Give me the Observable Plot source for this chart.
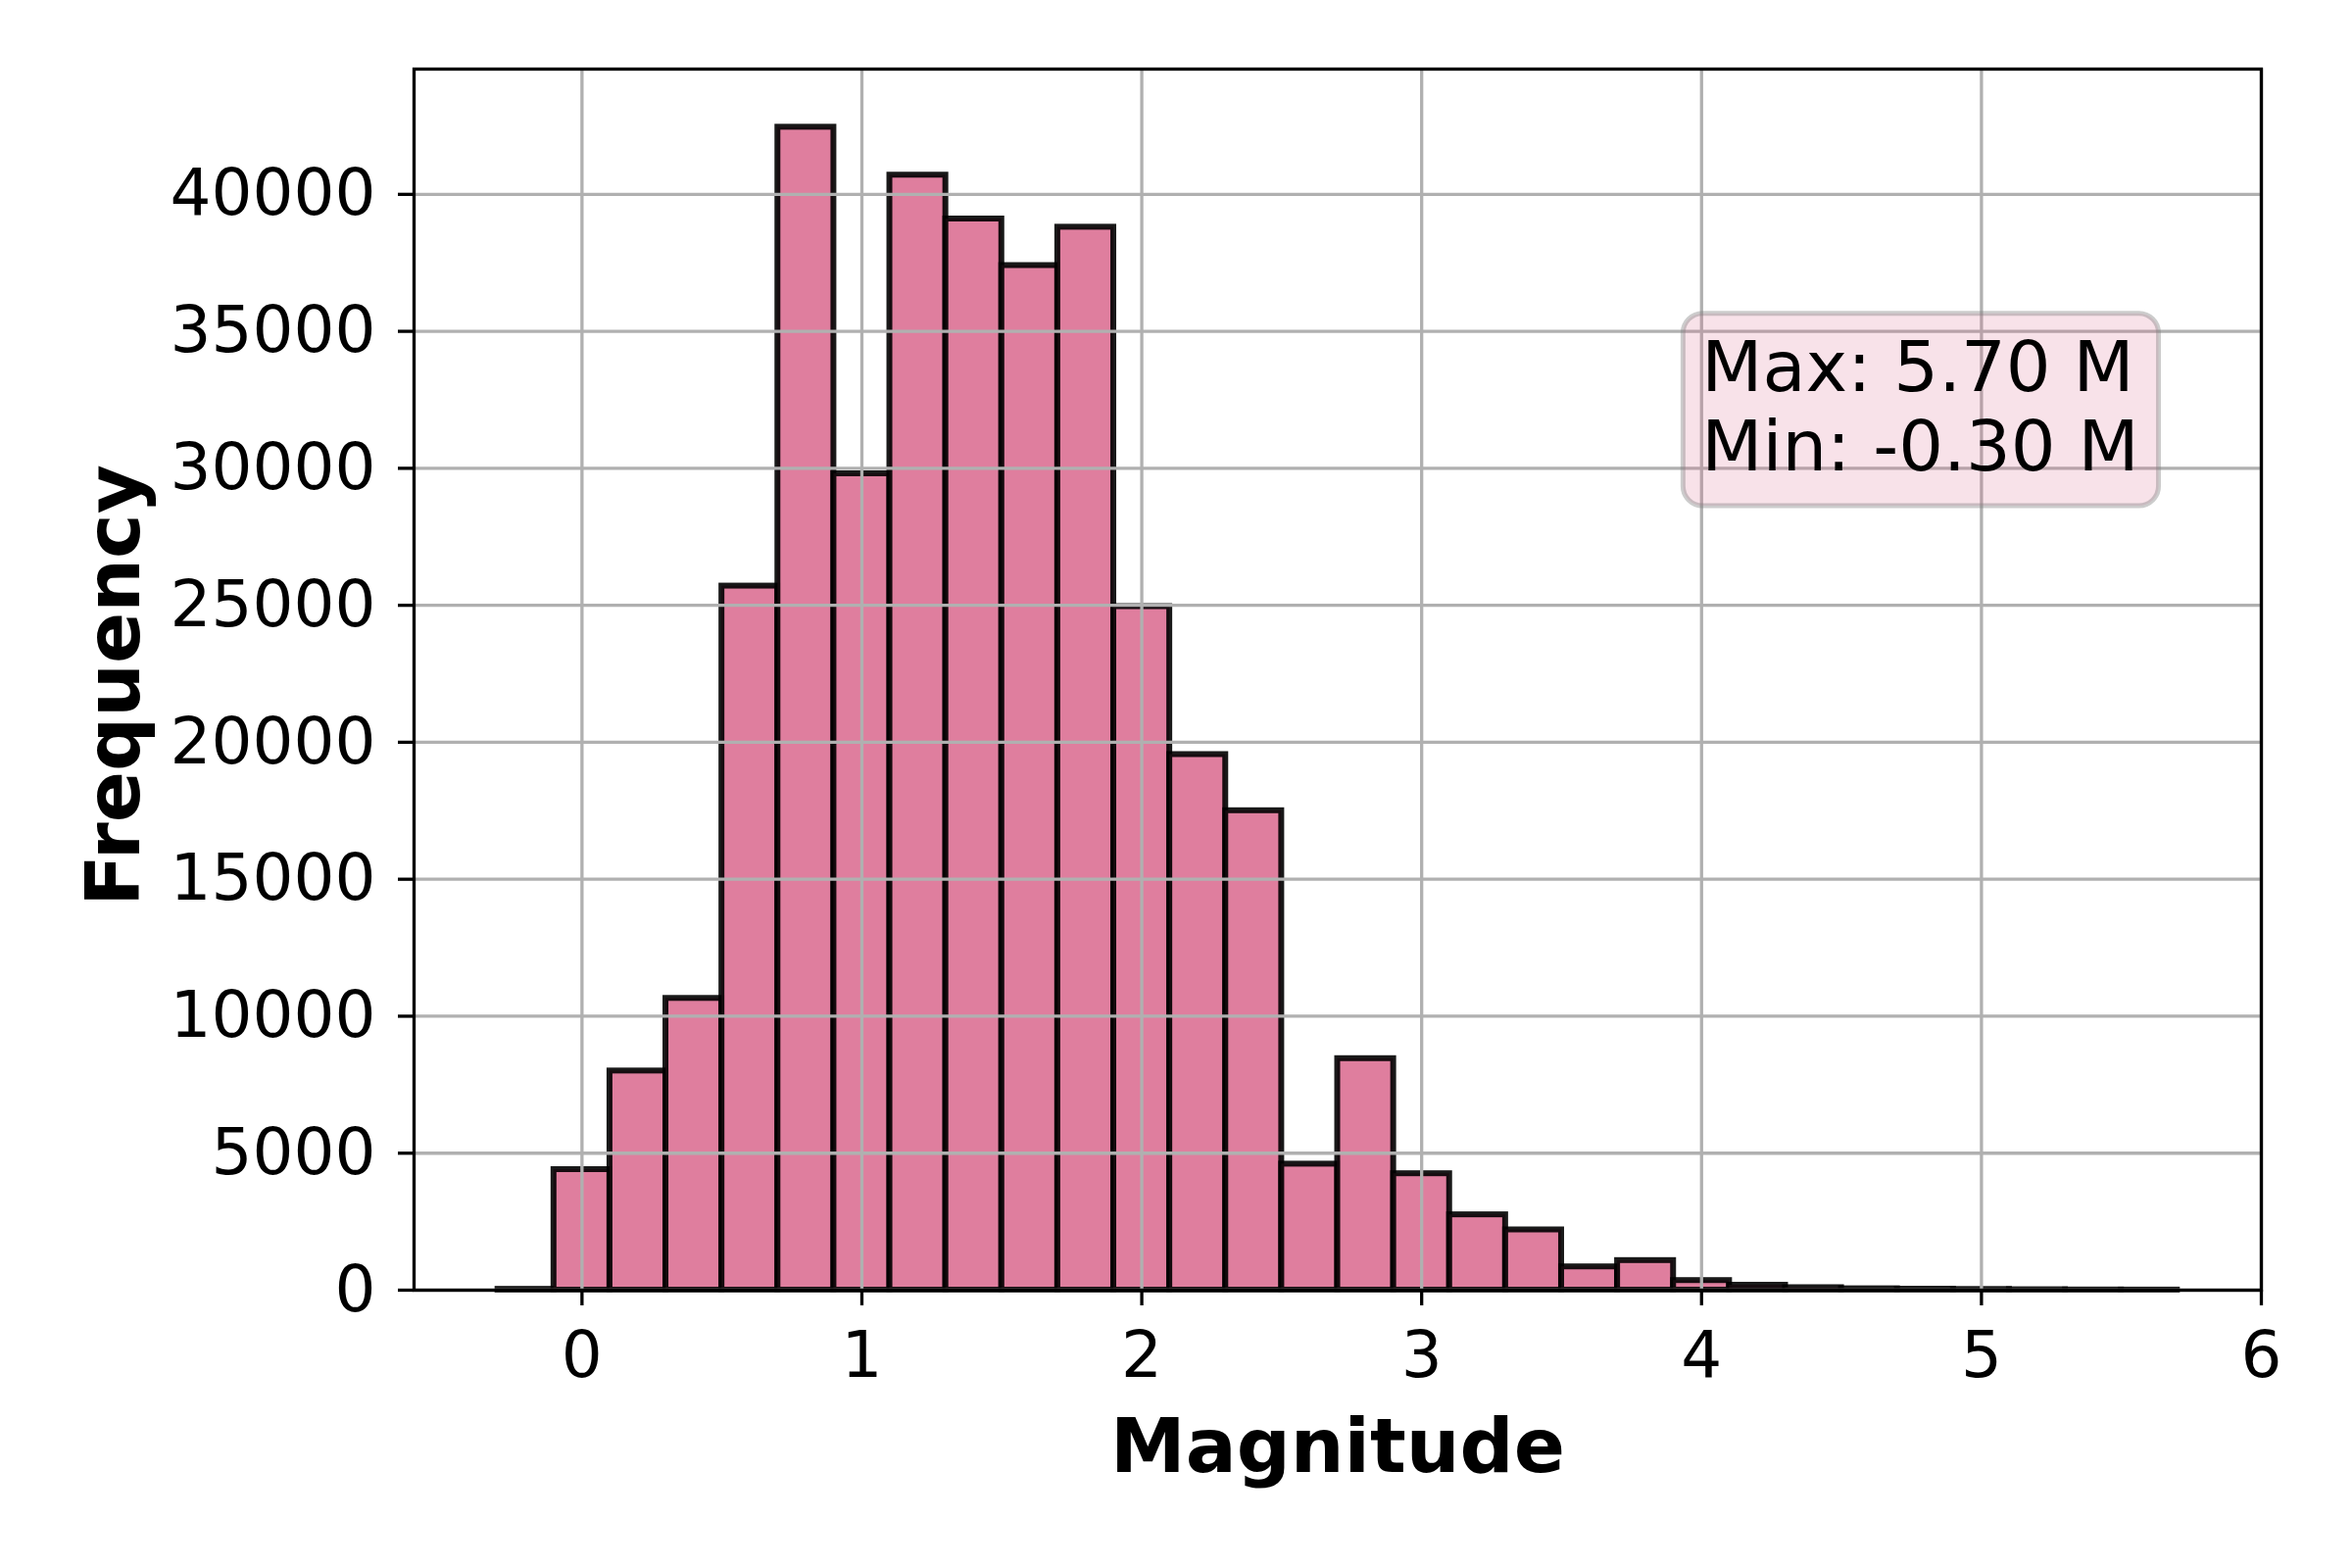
<!DOCTYPE html>
<html>
<head>
<meta charset="utf-8">
<script src="https://cdn.jsdelivr.net/npm/d3@7"></script>
<script src="https://cdn.jsdelivr.net/npm/@observablehq/plot@0.6"></script>
<style>
  html, body { margin: 0; padding: 0; background: #ffffff; }
  #chart svg { display: block; }
</style>
</head>
<body>
<div id="chart"></div>
<script>
// ---- data ----
const binStarts = [-0.3, -0.1, 0.1, 0.3, 0.5, 0.7, 0.9, 1.1, 1.3, 1.5,
                   1.7, 1.9, 2.1, 2.3, 2.5, 2.7, 2.9, 3.1, 3.3, 3.5,
                   3.7, 3.9, 4.1, 4.3, 4.5, 4.7, 4.9, 5.1, 5.3, 5.5];
const binWidth = 0.2;
const counts = [30, 4400, 8000, 10650, 25700, 42450, 29800, 40700, 39100, 37400,
                38800, 24950, 19550, 17500, 4600, 8450, 4250, 2750, 2200, 850,
                1080, 350, 180, 90, 50, 35, 25, 15, 6, 3];
const xTicks = [0, 1, 2, 3, 4, 5, 6];
const yTicks = [0, 5000, 10000, 15000, 20000, 25000, 30000, 35000, 40000];
const xLabel = "Magnitude";
const yLabel = "Frequency";
const statsLines = ["Max: 5.70 M", "Min: -0.30 M"];

const bins = binStarts.map((s, i) => ({x1: s, x2: +(s + binWidth).toFixed(2), count: counts[i]}));
const xDomain = [-0.6, 6];
const yMax = d3.max(counts) * 1.05;

const W = 2400, H = 1600;
const mL = 422, mR = 93, mT = 70, mB = 284;

const plot = Plot.plot({
  width: W,
  height: H,
  marginLeft: mL,
  marginRight: mR,
  marginTop: mT,
  marginBottom: mB,
  style: {fontFamily: "'DejaVu Sans', sans-serif", fontSize: "66px", color: "black", background: "white"},
  x: {domain: xDomain},
  y: {domain: [0, yMax]},
  marks: [
    Plot.rectY(bins, {x1: "x1", x2: "x2", y: "count", inset: 0,
      fill: "palevioletred", fillOpacity: 0.9,
      stroke: "black", strokeOpacity: 0.9, strokeWidth: 6}),
    Plot.ruleX(xTicks, {x: d => d, stroke: "#b0b0b0", strokeWidth: 3.3}),
    Plot.ruleY(yTicks, {y: d => d, stroke: "#b0b0b0", strokeWidth: 3.3}),
    Plot.frame({stroke: "black", strokeWidth: 3.3}),
    Plot.axisX(xTicks, {tickSize: 16, tickPadding: 26, strokeWidth: 3.3, fontSize: 66, label: null, tickFormat: d => String(d)}),
    Plot.axisY(yTicks, {tickSize: 16, tickPadding: 23, strokeWidth: 3.3, fontSize: 66, label: null, tickFormat: d => String(d)}),
    Plot.text([xLabel], {frameAnchor: "bottom", text: d => d, dy: 185, lineAnchor: "bottom",
      fontSize: 77, fontWeight: "bold", fill: "black"}),
    Plot.text([yLabel], {frameAnchor: "left", text: d => d, rotate: -90, dx: -281, dy: 6,
      lineAnchor: "bottom", textAnchor: "middle", fontSize: 77, fontWeight: "bold", fill: "black"}),
    Plot.text([statsLines.join("\n")], {
      x: () => xDomain[0] + 0.697 * (xDomain[1] - xDomain[0]),
      y: () => yMax * 0.783,
      text: d => d, textAnchor: "start", lineAnchor: "top", lineHeight: 1.13,
      fontSize: 72, fill: "black"})
  ]
});

document.getElementById("chart").appendChild(plot);

// rounded, semi-transparent box behind the stats annotation
const svg = d3.select(plot.tagName.toLowerCase() === "svg" ? plot : plot.querySelector("svg"));
svg.selectAll("text").filter(function () { return this.textContent.includes("Max:"); }).each(function () {
  const bb = this.getBBox();
  const padL = 19, padR = 20, padT = 12, padB = 19;
  const rect = document.createElementNS("http://www.w3.org/2000/svg", "rect");
  rect.setAttribute("x", bb.x - padL);
  rect.setAttribute("y", bb.y - padT);
  rect.setAttribute("width", bb.width + padL + padR);
  rect.setAttribute("height", bb.height + padT + padB);
  rect.setAttribute("rx", 20);
  rect.setAttribute("ry", 20);
  rect.setAttribute("fill", "palevioletred");
  rect.setAttribute("fill-opacity", 0.2);
  rect.setAttribute("stroke", "gray");
  rect.setAttribute("stroke-opacity", 0.4);
  rect.setAttribute("stroke-width", 5);
  const tr = this.getAttribute("transform");
  if (tr) rect.setAttribute("transform", tr);
  this.parentNode.insertBefore(rect, this);
});
</script>
</body>
</html>
